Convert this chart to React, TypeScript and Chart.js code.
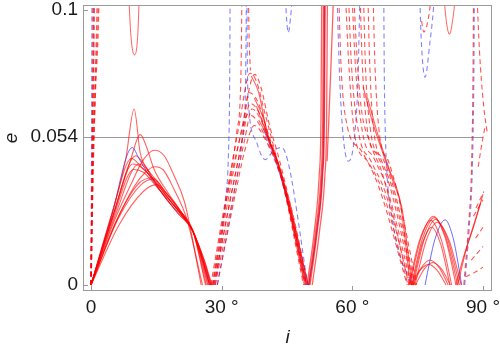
import { useEffect, useRef } from "react";
import { Chart, registerables } from "chart.js";

Chart.register(...registerables);

type Curve = [number, number][];

// ---------- axes ----------
const xTickValues = [0, 30, 60, 90];
const xTickLabels = ["0", "30 °", "60 °", "90 °"];
const yTickValues = [0, 0.054, 0.1];
const yTickLabels = ["0", "0.054", "0.1"];
const gridLineE = 0.054;
const xTitle = "i";
const yTitle = "e";

// ---------- curves: [i (deg), e] ----------
// near i = 0, steep dashed branches
const redDashedStart: Curve[] = [
  [[0, 0], [0.3, 0.05], [0.55, 0.1], [0.6, 0.11]],
  [[0, 0], [0.35, 0.05], [0.75, 0.1], [0.8, 0.11]],
  [[0, 0], [0.4, 0.04], [0.9, 0.07], [1.4, 0.1], [1.5, 0.11]],
  [[0, 0], [0.45, 0.04], [1.0, 0.07], [1.75, 0.1], [1.85, 0.11]],
];
const blueDashedStart: Curve[] = [
  [[0, 0], [0.1, 0.03], [0.25, 0.1], [0.3, 0.11]],
];

// first band of arches, 0..28 deg
const redSolidBand1: Curve[] = [
  [[0, 0], [4.5, 0.024], [8, 0.046], [9.9, 0.064], [11.3, 0.048], [13, 0.042], [16.5, 0.033], [20, 0.026], [23.4, 0.0195], [26.8, 0]],
  [[0, 0], [5, 0.025], [9, 0.045], [11.3, 0.0547], [12.8, 0.05], [14.5, 0.042], [17.5, 0.034], [20.5, 0.027], [23.4, 0.0195], [26.5, 0]],
  [[0, 0], [5, 0.022], [9, 0.036], [12, 0.0455], [14.6, 0.049], [16.8, 0.047], [19, 0.04], [21.5, 0.03], [25.3, 0]],
  [[0, 0], [5.5, 0.022], [10, 0.036], [12.5, 0.041], [14.6, 0.043], [16.5, 0.042], [19, 0.035], [22, 0.024], [25.6, 0]],
  [[0, 0], [5, 0.025], [10.3, 0.047], [12.5, 0.043], [16, 0.034], [20, 0.026], [23.4, 0.0195], [27.5, 0]],
  [[0, 0], [5.5, 0.025], [11, 0.044], [13.5, 0.041], [17, 0.033], [20.5, 0.026], [23.4, 0.0195], [27.7, 0]],
  [[0, 0], [6, 0.024], [11, 0.037], [14.2, 0.039], [17, 0.034], [20.5, 0.027], [23.4, 0.0195], [26, 0.009], [27.5, 0]],
  [[0, 0], [6.2, 0.024], [11.5, 0.0365], [14.4, 0.0385], [17.2, 0.0335], [20.5, 0.027], [23.4, 0.0195], [26, 0.009], [27.8, 0]],
  [[0, 0], [6.5, 0.022], [12, 0.034], [15, 0.0365], [18, 0.032], [21, 0.025], [23.4, 0.02], [27.2, 0]],
  [[0, 0], [5, 0.024], [9.8, 0.042], [12, 0.041], [15.5, 0.035], [19, 0.029], [23.4, 0.0195], [26.3, 0]],
  [[0, 0], [4.8, 0.026], [9.3, 0.046], [11.5, 0.043], [14.5, 0.038], [18.5, 0.03], [23.4, 0.0195], [27, 0]],
  [[0, 0], [5.2, 0.026], [9.6, 0.044], [12.2, 0.042], [15, 0.037], [19.5, 0.028], [23.4, 0.0195], [27.3, 0]],
];
const blueSolidBand1: Curve[] = [
  [[0, 0], [4.7, 0.025], [9.5, 0.05], [11, 0.046], [13.5, 0.0395], [18, 0.03], [23.4, 0.0195], [25.5, 0.01], [27.2, 0]],
];

// closed-off curves touching the top of the frame
const redSolidTop: Curve[] = [
  [[8.5, 0.11], [9.2, 0.09], [9.95, 0.0837], [10.7, 0.09], [11.2, 0.11]],
  [[80.8, 0.11], [81.5, 0.097], [82.3, 0.0912], [83.1, 0.097], [84, 0.11]],
];
const blueDashedTop: Curve[] = [
  [[44.5, 0.11], [44.9, 0.097], [45.3, 0.0918], [45.8, 0.097], [46.5, 0.11]],
  [[75.4, 0.11], [75.8, 0.09], [76.7, 0.0755], [77.8, 0.088], [78.6, 0.1], [79, 0.11]],
];
const redDashedTop: Curve[] = [
  [[75.9, 0.096], [76.4, 0.092], [77.2, 0.095], [77.9, 0.102], [78.3, 0.11]],
];

// second band, 27..50 deg
const redDashedBand2: Curve[] = [
  [[27.5, 0], [31, 0.032], [34, 0.058], [36.5, 0.077], [38, 0.074], [40, 0.062], [42, 0.05], [45.5, 0.027], [49.2, 0]],
  [[28, 0], [31.5, 0.031], [34.5, 0.056], [37.6, 0.0766], [39, 0.072], [41, 0.058], [43, 0.047], [46.5, 0.024], [49.5, 0]],
  [[28.2, 0], [32, 0.031], [35, 0.055], [36.5, 0.066], [38.5, 0.063], [41, 0.052], [44, 0.038], [49, 0]],
  [[28.5, 0], [32.5, 0.031], [35.3, 0.053], [37, 0.064], [39, 0.06], [41.5, 0.05], [44.5, 0.036], [49.3, 0]],
  [[27.8, 0], [31, 0.03], [34, 0.052], [36, 0.062], [38, 0.06], [40.5, 0.052], [43.5, 0.04], [48.8, 0]],
  [[29, 0], [33, 0.032], [35.5, 0.05], [37.5, 0.058], [40, 0.053], [43, 0.042], [46, 0.028], [49.8, 0]],
  [[28.3, 0], [31.8, 0.03], [34.8, 0.054], [36.2, 0.07], [38.2, 0.067], [40.7, 0.055], [43.2, 0.043], [49.1, 0]],
  [[28, 0], [31, 0.03], [33.5, 0.056], [34.4, 0.075], [34.7, 0.11]],
  [[36.1, 0.11], [36.3, 0.09], [36.6, 0.078]],
];
const blueDashedBand2: Curve[] = [
  [[28.6, 0], [30.8, 0.03], [31.6, 0.05], [31.85, 0.075], [31.95, 0.11]],
  [[29, 0], [33, 0.035], [35, 0.058], [35.5, 0.075], [35.7, 0.11]],
  [[35.8, 0.11], [35.9, 0.08], [36.3, 0.063], [38, 0.052], [40, 0.0456], [42, 0.049], [43.8, 0.05], [45.5, 0.043], [47.8, 0.021], [49.7, 0]],
];
const redSolidBand2: Curve[] = [
  [[36.8, 0.076], [38.5, 0.07], [40.6, 0.054], [42.7, 0.0456], [46.5, 0.022], [49.6, 0]],
  [[37.5, 0.068], [39.5, 0.061], [41.5, 0.05], [43.5, 0.042], [47, 0.02], [49.8, 0]],
  [[38.5, 0.06], [40.5, 0.054], [42.5, 0.046], [45, 0.032], [49.3, 0]],
  [[38, 0.065], [40.8, 0.053], [43, 0.044], [46, 0.026], [49.9, 0]],
];
const blueSolidBand2: Curve[] = [
  [[39.5, 0.057], [42, 0.047], [45, 0.031], [49.5, 0]],
];

// steep rise after the 50 deg minimum
const redSolidRise: Curve[] = [
  [[49.6, 0], [51.3, 0.02], [52.4, 0.04], [52.8, 0.06], [53, 0.11]],
  [[49.9, 0], [51.6, 0.02], [52.8, 0.04], [53.2, 0.06], [53.4, 0.11]],
  [[50.3, 0], [52, 0.02], [53.2, 0.04], [53.6, 0.06], [53.8, 0.11]],
  [[50.8, 0], [52.5, 0.02], [53.7, 0.04], [54.1, 0.06], [54.3, 0.11]],
  [[50.1, 0], [51.8, 0.02], [53, 0.04], [53.4, 0.06], [53.6, 0.11]],
  [[54.2, 0.045], [54.6, 0.06], [55.1, 0.08], [55.8, 0.11]],
];
const blueSolidRise: Curve[] = [
  [[50, 0], [51.9, 0.02], [53.1, 0.04], [53.5, 0.06], [53.7, 0.11]],
];

// third band, falling from the top to ~74 deg
const redDashedBand3: Curve[] = [
  [[56.8, 0.11], [57.4, 0.08], [58.8, 0.058], [62, 0.049], [66, 0.036], [72.6, 0]],
  [[58.3, 0.11], [59.2, 0.08], [60.6, 0.054], [63.5, 0.045], [66.8, 0.0347], [72.8, 0]],
  [[59, 0.11], [59.8, 0.08], [61.5, 0.055], [64.3, 0.045], [67.5, 0.034], [73.2, 0]],
  [[59.8, 0.11], [60.7, 0.08], [62.4, 0.055], [65, 0.046], [68, 0.035], [73.5, 0]],
  [[60.2, 0.11], [61, 0.085], [62, 0.065], [64, 0.052], [67, 0.04], [73, 0]],
  [[61.7, 0.11], [62.3, 0.08], [63.5, 0.056], [65.8, 0.047], [68.6, 0.036], [73.8, 0]],
  [[62.5, 0.11], [63, 0.08], [64.2, 0.056], [66.5, 0.046], [69.2, 0.035], [74.1, 0]],
  [[63.5, 0.11], [64, 0.08], [65, 0.055], [67.3, 0.045], [69.7, 0.034], [74.4, 0]],
  [[64.7, 0.11], [65.2, 0.08], [66.3, 0.054], [68.3, 0.045], [70.2, 0.0347], [74.8, 0]],
];
const blueDashedBand3: Curve[] = [
  [[56.4, 0.11], [57.1, 0.075], [57.9, 0.054], [59.1, 0.045], [60.5, 0.054], [61.3, 0.075], [61.8, 0.11]],
  [[67.2, 0.11], [67.35, 0.075], [67.6, 0.054], [68.2, 0.035], [69.3, 0.0226], [70.5, 0.0128], [73.8, 0]],
];
const redSolidBand3: Curve[] = [
  [[62.5, 0.072], [64.5, 0.06], [67, 0.048], [69.5, 0.037], [71.4, 0.028], [73.7, 0]],
  [[63.5, 0.068], [66, 0.054], [68.5, 0.042], [71, 0.03], [73.3, 0]],
];

// fourth band, small arches 73..85 deg
const redSolidBand4: Curve[] = [
  [[73.2, 0], [74.55, 0.0096], [75.9, 0.0177], [78.6, 0.025], [81.4, 0.0177], [82.8, 0.0096], [84.2, 0]],
  [[73.6, 0], [74.9, 0.0094], [76.2, 0.0173], [78.8, 0.0245], [81.3, 0.0173], [82.55, 0.0094], [83.8, 0]],
  [[74, 0], [75.3, 0.0091], [76.55, 0.0168], [79.1, 0.0238], [81.85, 0.0168], [83.2, 0.0091], [84.6, 0]],
  [[73, 0], [74.25, 0.009], [75.5, 0.0166], [78, 0.0235], [80.4, 0.0166], [81.6, 0.009], [82.8, 0]],
  [[74.4, 0], [75.7, 0.0087], [76.95, 0.0161], [79.5, 0.0228], [82.25, 0.0161], [83.6, 0.0087], [85, 0]],
  [[73.8, 0], [74.9, 0.008], [76, 0.0148], [78.2, 0.021], [80.3, 0.0148], [81.35, 0.008], [82.4, 0]],
  [[74, 0], [74.95, 0.0035], [75.9, 0.0064], [77.8, 0.0091], [79.9, 0.0064], [80.95, 0.0035], [82, 0]],
  [[74.5, 0], [75.5, 0.0031], [76.5, 0.0058], [78.5, 0.0082], [80.5, 0.0058], [81.5, 0.0031], [82.5, 0]],
  [[73.5, 0], [74.5, 0.0029], [75.5, 0.0053], [77.5, 0.0075], [79.5, 0.0053], [80.5, 0.0029], [81.5, 0]],
  [[84.2, 0], [86, 0.012], [88, 0.022], [90, 0.033]],
  [[83.8, 0], [85.5, 0.01], [87.5, 0.02], [89.5, 0.03]],
];
const blueSolidBand4: Curve[] = [
  [[76.7, 0], [77.85, 0.0091], [79, 0.0168], [81.3, 0.0237], [83.2, 0.0168], [84.15, 0.0091], [85.1, 0]],
];
const redDashedBand4: Curve[] = [
  [[85.6, 0], [86.6, 0.02], [87.4, 0.045], [87.7, 0.075], [87.85, 0.11]],
  [[88.5, 0.11], [89.2, 0.085], [90.1, 0.066], [91, 0.055]],
  [[88.9, 0.043], [89.6, 0.05], [90.4, 0.057]],
  [[86, 0.003], [88, 0.0045], [90, 0.0065]],
  [[87.3, 0.009], [90, 0.014]],
  [[88.3, 0.017], [90, 0.021]],
  [[87.8, 0.025], [90, 0.031]],
  [[88.4, 0.028], [90.2, 0.034]],
];
const blueDashedBand4: Curve[] = [
  [[85.8, 0], [86.8, 0.02], [87.6, 0.045], [87.9, 0.075], [88.05, 0.11]],
];

// ---------- styles ----------
const RED = "rgba(255,0,0,0.62)";
const RED_DASH = "rgba(255,0,0,0.68)";
const BLUE = "rgba(70,70,255,0.8)";
const BLUE_DASH = "rgba(90,90,255,0.75)";
const FRAME = "#9a9a9a";
const TEXT = "#1a1a1a";
const FONT = '"Liberation Sans", Arial, sans-serif';

function toDatasets(curves: Curve[], color: string, dashed: boolean, width: number) {
  return curves.map((c) => ({
    data: c.map(([x, y]) => ({ x, y })),
    borderColor: color,
    borderWidth: width,
    borderDash: dashed ? [5, 3.5] : [],
    pointRadius: 0,
    fill: false,
    cubicInterpolationMode: "monotone" as const,
    clip: 0,
  }));
}

const framePlugin = {
  id: "mmaFrame",
  beforeDatasetsDraw(chart: any) {
    const { ctx, chartArea, scales } = chart;
    const y = Math.round(scales.y.getPixelForValue(gridLineE)) + 0.5;
    const xEnd = scales.x.getPixelForValue(90);
    ctx.save();
    ctx.strokeStyle = FRAME;
    ctx.lineWidth = 1;
    ctx.beginPath();
    ctx.moveTo(chartArea.left, y);
    ctx.lineTo(xEnd, y);
    ctx.stroke();
    ctx.restore();
  },
  afterDatasetsDraw(chart: any) {
    const { ctx, chartArea, scales } = chart;
    const { left, right, top, bottom } = chartArea;
    ctx.save();
    ctx.strokeStyle = FRAME;
    ctx.lineWidth = 1;
    ctx.strokeRect(left + 0.5, top + 0.5, right - left - 1, bottom - top - 1);
    ctx.beginPath();
    for (const v of yTickValues) {
      const py = Math.round(scales.y.getPixelForValue(v)) + 0.5;
      ctx.moveTo(left, py);
      ctx.lineTo(left + 5, py);
    }
    for (const v of xTickValues) {
      const px = Math.round(scales.x.getPixelForValue(v)) + 0.5;
      ctx.moveTo(px, bottom);
      ctx.lineTo(px, bottom - 5);
    }
    ctx.stroke();
    // axis titles
    ctx.fillStyle = TEXT;
    ctx.font = `italic 19px ${FONT}`;
    ctx.textAlign = "center";
    ctx.textBaseline = "alphabetic";
    ctx.fillText(xTitle, (left + right) / 2, 343);
    ctx.translate(16.5, 138);
    ctx.rotate(-Math.PI / 2);
    ctx.fillText(yTitle, 0, 0);
    ctx.restore();
  },
};

export default function App() {
  const ref = useRef<HTMLCanvasElement | null>(null);

  useEffect(() => {
    if (!ref.current) return;
    const datasets = [
      ...toDatasets(redDashedStart, RED_DASH, true, 1.5),
      ...toDatasets(blueDashedStart, BLUE_DASH, true, 1.4),
      ...toDatasets(redDashedBand2, RED_DASH, true, 1.1),
      ...toDatasets(blueDashedBand2, BLUE_DASH, true, 1.1),
      ...toDatasets(redDashedBand3, RED_DASH, true, 1.1),
      ...toDatasets(blueDashedBand3, BLUE_DASH, true, 1.1),
      ...toDatasets(redDashedBand4, RED_DASH, true, 1.1),
      ...toDatasets(blueDashedBand4, BLUE_DASH, true, 1.1),
      ...toDatasets(blueDashedTop, BLUE_DASH, true, 1.1),
      ...toDatasets(redDashedTop, RED_DASH, true, 1.1),
      ...toDatasets(redSolidTop, RED, false, 1),
      ...toDatasets(redSolidBand1, RED, false, 1.1),
      ...toDatasets(blueSolidBand1, BLUE, false, 1),
      ...toDatasets(redSolidBand2, RED, false, 1.1),
      ...toDatasets(blueSolidBand2, BLUE, false, 1),
      ...toDatasets(redSolidRise, RED, false, 1.3),
      ...toDatasets(blueSolidRise, BLUE, false, 1),
      ...toDatasets(redSolidBand3, RED, false, 1.1),
      ...toDatasets(redSolidBand4, RED, false, 1.1),
      ...toDatasets(blueSolidBand4, BLUE, false, 1),
    ];

    const chart = new Chart(ref.current, {
      type: "line",
      data: { datasets },
      options: {
        animation: false,
        responsive: false,
        events: [],
        layout: { padding: { top: 5, right: 8, left: 0, bottom: 0 } },
        plugins: { legend: { display: false }, tooltip: { enabled: false } },
        scales: {
          x: {
            type: "linear",
            min: -1.837,
            max: 92.07,
            grid: { display: false, drawTicks: false },
            border: { display: false },
            afterBuildTicks: (s: any) => {
              s.ticks = xTickValues.map((v) => ({ value: v }));
            },
            afterFit: (s: any) => {
              s.height = 58;
              s.paddingLeft = 0;
              s.paddingRight = 0;
            },
            ticks: {
              autoSkip: false,
              maxRotation: 0,
              padding: 5,
              color: TEXT,
              font: { family: FONT, size: 19 },
              callback: (_v: any, i: number) => xTickLabels[i],
            },
          },
          y: {
            type: "linear",
            min: -0.00218,
            max: 0.10182,
            grid: { display: false, drawTicks: false },
            border: { display: false },
            afterBuildTicks: (s: any) => {
              s.ticks = yTickValues.map((v) => ({ value: v }));
            },
            afterFit: (s: any) => {
              s.width = 83;
              s.paddingTop = 0;
              s.paddingBottom = 0;
            },
            ticks: {
              autoSkip: false,
              padding: 5,
              color: TEXT,
              font: { family: FONT, size: 19 },
              callback: (_v: any, i: number) => yTickLabels[i],
            },
          },
        },
      },
      plugins: [framePlugin],
    });
    return () => chart.destroy();
  }, []);

  return (
    <div style={{ position: "fixed", left: 0, top: 0, width: 500, height: 349, background: "#fff" }}>
      <canvas ref={ref} width={500} height={349} style={{ display: "block", width: 500, height: 349 }} />
    </div>
  );
}
